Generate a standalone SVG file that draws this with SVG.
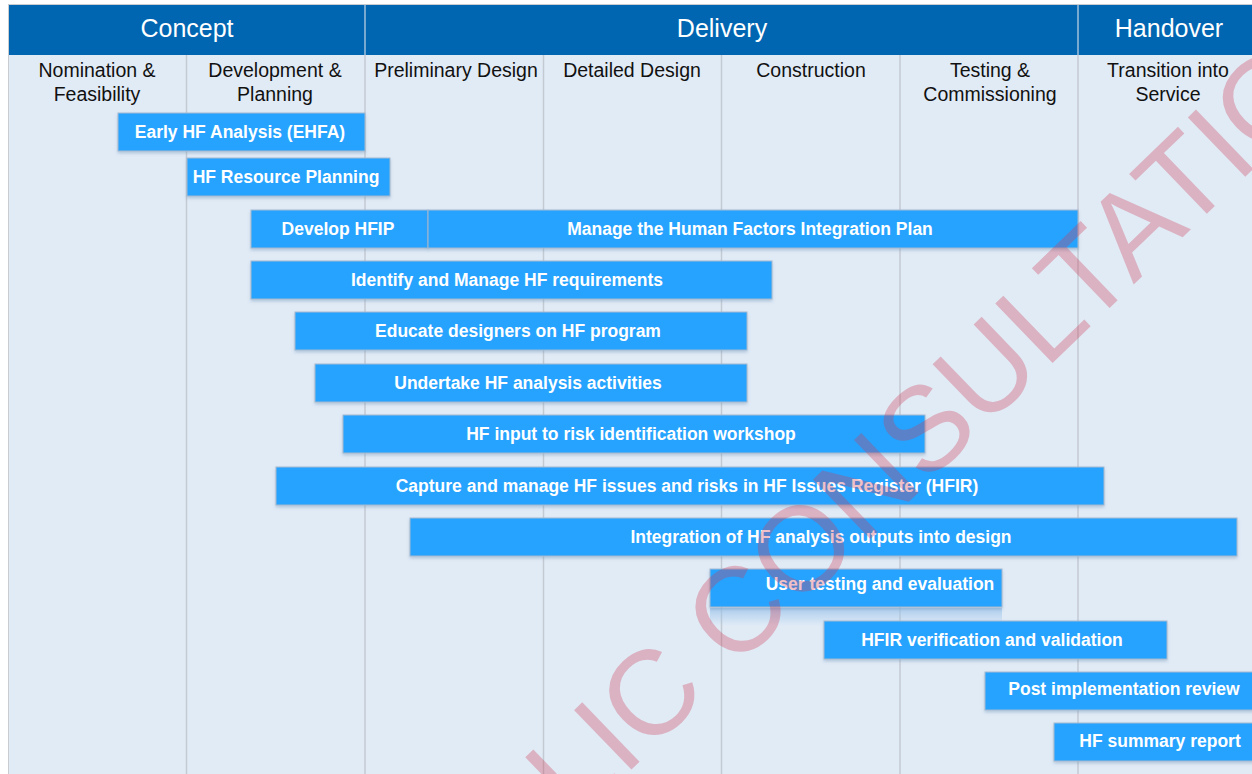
<svg xmlns="http://www.w3.org/2000/svg" width="1252" height="774" viewBox="0 0 1252 774">
  <style>
    .phase { fill: #0066b2; }
    .phase-t { font-family: "Liberation Sans", Arial, sans-serif; font-size: 25px; fill: #ffffff; text-anchor: middle; }
    .stage-t { font-family: "Liberation Sans", Arial, sans-serif; font-size: 19.5px; fill: #111111; text-anchor: middle; }
    .col { stroke: #c3cad2; stroke-width: 1.5; }
    .bar { fill: #26a3ff; stroke: #a3b9cf; stroke-width: 1; filter: url(#shadow); }
    .bar-t { font-family: "Liberation Sans", Arial, sans-serif; font-size: 17.5px; font-weight: bold; fill: #ffffff; text-anchor: middle; }
    .stamp { font-family: "Liberation Sans", Arial, sans-serif; font-size: 120px; fill: #cc3c55; fill-opacity: 0.32; }
  </style>
  <defs>
    <filter id="shadow" x="-5%" y="-30%" width="110%" height="170%">
      <feDropShadow dx="0" dy="2" stdDeviation="1.6" flood-color="#5f86ad" flood-opacity="0.35"/>
    </filter>
    <linearGradient id="glow" x1="0" y1="0" x2="0" y2="1">
      <stop offset="0" stop-color="#9cc4ea" stop-opacity="0.75"/>
      <stop offset="1" stop-color="#9cc4ea" stop-opacity="0"/>
    </linearGradient>
  </defs>

  <!-- page -->
  <rect x="0" y="0" width="1252" height="774" fill="#ffffff"/>
  <rect x="8" y="55" width="1250" height="725" fill="#e1ebf6"/>
  <rect x="8.5" y="4.5" width="1250" height="775" fill="none" stroke="#c9cdd2" stroke-width="1"/>

  <!-- phase header -->
  <g id="phases">
    <rect class="phase" x="9" y="5" width="1250" height="50"/>
    <line x1="365" y1="5" x2="365" y2="55" stroke="#c9d6e4" stroke-width="1.2"/>
    <line x1="1078" y1="5" x2="1078" y2="55" stroke="#c9d6e4" stroke-width="1.2"/>
    <text class="phase-t" x="187" y="37">Concept</text>
    <text class="phase-t" x="722" y="37">Delivery</text>
    <text class="phase-t" x="1169" y="37">Handover</text>
  </g>

  <!-- stage columns -->
  <g id="columns">
    <line class="col" x1="186.5" y1="55" x2="186.5" y2="774"/>
    <line class="col" x1="365" y1="55" x2="365" y2="774"/>
    <line class="col" x1="543.5" y1="55" x2="543.5" y2="774"/>
    <line class="col" x1="721.5" y1="55" x2="721.5" y2="774"/>
    <line class="col" x1="900" y1="55" x2="900" y2="774"/>
    <line class="col" x1="1078" y1="55" x2="1078" y2="774"/>
    <text class="stage-t" x="97" y="77">Nomination &amp;</text>
    <text class="stage-t" x="97" y="101">Feasibility</text>
    <text class="stage-t" x="275" y="77">Development &amp;</text>
    <text class="stage-t" x="275" y="101">Planning</text>
    <text class="stage-t" x="456" y="77">Preliminary Design</text>
    <text class="stage-t" x="632" y="77">Detailed Design</text>
    <text class="stage-t" x="811" y="77">Construction</text>
    <text class="stage-t" x="990" y="77">Testing &amp;</text>
    <text class="stage-t" x="990" y="101">Commissioning</text>
    <text class="stage-t" x="1168" y="77">Transition into</text>
    <text class="stage-t" x="1168" y="101">Service</text>
  </g>

  <!-- activities -->
  <g id="ehfa">
    <rect class="bar" x="118" y="113" width="247" height="38"/>
    <text class="bar-t" x="240" y="138">Early HF Analysis (EHFA)</text>
  </g>
  <g id="resource-planning">
    <rect class="bar" x="187" y="158" width="203" height="38"/>
    <text class="bar-t" x="286" y="183">HF Resource Planning</text>
  </g>
  <g id="develop-hfip">
    <rect class="bar" x="251" y="210" width="177" height="38"/>
    <text class="bar-t" x="338" y="235">Develop HFIP</text>
  </g>
  <g id="manage-hfip">
    <rect class="bar" x="428" y="210" width="650" height="38"/>
    <text class="bar-t" x="750" y="235">Manage the Human Factors Integration Plan</text>
  </g>
  <g id="requirements">
    <rect class="bar" x="251" y="261" width="521" height="38"/>
    <text class="bar-t" x="507" y="286">Identify and Manage HF requirements</text>
  </g>
  <g id="educate">
    <rect class="bar" x="295" y="312" width="452" height="38"/>
    <text class="bar-t" x="518" y="337">Educate designers on HF program</text>
  </g>
  <g id="analysis">
    <rect class="bar" x="315" y="364" width="432" height="38"/>
    <text class="bar-t" x="528" y="389">Undertake HF analysis activities</text>
  </g>
  <g id="risk-workshop">
    <rect class="bar" x="343" y="415" width="582" height="38"/>
    <text class="bar-t" x="631" y="440">HF input to risk identification workshop</text>
  </g>
  <g id="hfir">
    <rect class="bar" x="276" y="467" width="828" height="38"/>
    <text class="bar-t" x="687" y="492">Capture and manage HF issues and risks in HF Issues Register (HFIR)</text>
  </g>
  <g id="integration">
    <rect class="bar" x="410" y="518" width="827" height="38"/>
    <text class="bar-t" x="821" y="543">Integration of HF analysis outputs into design</text>
  </g>
  <g id="user-testing">
    <rect x="710" y="608" width="292" height="18" fill="url(#glow)"/>
    <rect class="bar" x="710" y="569" width="292" height="38"/>
    <text class="bar-t" x="880" y="590">User testing and evaluation</text>
  </g>
  <g id="verification">
    <rect class="bar" x="824" y="621" width="343" height="38"/>
    <text class="bar-t" x="992" y="646">HFIR verification and validation</text>
  </g>
  <g id="post-review">
    <rect class="bar" x="985" y="672" width="290" height="38"/>
    <text class="bar-t" x="1124" y="695">Post implementation review</text>
  </g>
  <g id="summary">
    <rect class="bar" x="1054" y="723" width="220" height="38"/>
    <text class="bar-t" x="1160" y="747">HF summary report</text>
  </g>

  <!-- consultation stamp -->
  <text class="stamp" transform="translate(398 995) rotate(-44)">PUBLIC CONSULTATION</text>
</svg>
